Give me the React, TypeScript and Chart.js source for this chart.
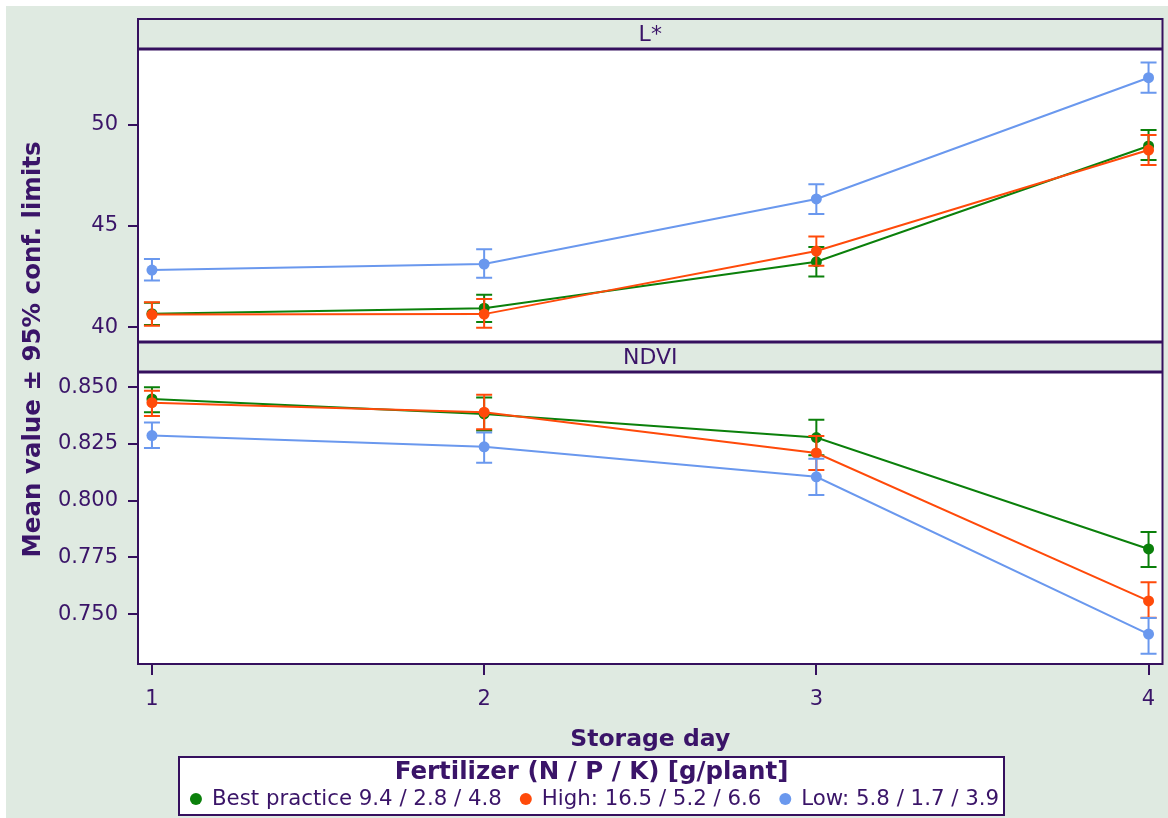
import React, { useEffect, useRef } from "react";
import { Chart, registerables } from "chart.js";

Chart.register(...registerables);

// ---------- data ----------
const days = [1, 2, 3, 4];
const dayTicks = [1, 2, 3, 4];
const lTicks = [40, 45, 50];
const ndviTicks = [0.75, 0.775, 0.8, 0.825, 0.85];

const seriesNames = [
  "Best practice 9.4 / 2.8 / 4.8",
  "High: 16.5 / 5.2 / 6.6",
  "Low: 5.8 / 1.7 / 3.9",
];
const seriesColors = ["#0b800b", "#ff4a0a", "#6a98ee"];

// L* panel
const lBestMean = [40.66, 40.93, 43.23, 48.96];
const lBestLow = [40.1, 40.25, 42.5, 48.27];
const lBestHigh = [41.2, 41.6, 43.96, 49.75];
const lHighMean = [40.62, 40.64, 43.76, 48.76];
const lHighLow = [40.07, 39.97, 43.03, 48.02];
const lHighHigh = [41.23, 41.39, 44.48, 49.5];
const lLowMean = [42.82, 43.12, 46.34, 52.34];
const lLowLow = [42.3, 42.44, 45.6, 51.6];
const lLowHigh = [43.37, 43.85, 47.07, 53.09];

// NDVI panel
const nBestMean = [0.8448, 0.8382, 0.8278, 0.7787];
const nBestLow = [0.839, 0.8309, 0.82, 0.7708];
const nBestHigh = [0.85, 0.8455, 0.8356, 0.7862];
const nHighMean = [0.8432, 0.839, 0.821, 0.7558];
const nHighLow = [0.8373, 0.8315, 0.8135, 0.7484];
const nHighHigh = [0.8484, 0.8467, 0.8285, 0.764];
const nLowMean = [0.8287, 0.8237, 0.8105, 0.7412];
const nLowLow = [0.8232, 0.8167, 0.8025, 0.7325];
const nLowHigh = [0.8344, 0.83, 0.8185, 0.7483];

const panelTitles = ["L*", "NDVI"];
const xTitle = "Storage day";
const yTitle = "Mean value \u00b1 95% conf. limits";
const legendTitle = "Fertilizer (N / P / K) [g/plant]";

// ---------- style ----------
const FONT = "'DejaVu Sans', Verdana, sans-serif";
const TEXT = "#3a1468";
const LINE = "#35105e";
const BG = "#dfeae1";

const mk = (
  idx: number,
  axis: string,
  mean: number[],
  lo: number[],
  hi: number[]
): any => ({
  label: seriesNames[idx],
  data: days.map((d, i) => ({ x: d, y: mean[i] })),
  errLow: lo,
  errHigh: hi,
  yAxisID: axis,
  xAxisID: "x",
  borderColor: seriesColors[idx],
  backgroundColor: seriesColors[idx],
  pointBackgroundColor: seriesColors[idx],
  pointBorderColor: seriesColors[idx],
  pointRadius: 5.5,
  pointBorderWidth: 0,
  borderWidth: 2,
  tension: 0,
  fill: false,
  order: 3 - idx,
});

const datasets = [
  mk(0, "yL", lBestMean, lBestLow, lBestHigh),
  mk(1, "yL", lHighMean, lHighLow, lHighHigh),
  mk(2, "yL", lLowMean, lLowLow, lLowHigh),
  mk(0, "yN", nBestMean, nBestLow, nBestHigh),
  mk(1, "yN", nHighMean, nHighLow, nHighHigh),
  mk(2, "yN", nLowMean, nLowLow, nLowHigh),
];

const decor = {
  id: "decor",
  beforeDraw(chart: any) {
    const { ctx, chartArea: ca } = chart;
    const yL = chart.scales.yL;
    const yN = chart.scales.yN;
    ctx.save();
    ctx.fillStyle = "#ffffff";
    ctx.fillRect(0, 0, chart.width, chart.height);
    ctx.fillStyle = BG;
    ctx.fillRect(6, 6, chart.width - 6, chart.height - 6);
    ctx.fillStyle = "#ffffff";
    ctx.fillRect(ca.left, yL.top, ca.right - ca.left, yL.bottom - yL.top);
    ctx.fillRect(ca.left, yN.top, ca.right - ca.left, yN.bottom - yN.top);
    ctx.restore();
  },
  beforeDatasetDraw(chart: any, args: any) {
    const ds = chart.data.datasets[args.index];
    const xs = chart.scales.x;
    const ys = chart.scales[ds.yAxisID];
    const { ctx } = chart;
    ctx.save();
    ctx.strokeStyle = ds.borderColor;
    ctx.lineWidth = 2;
    const cap = 8;
    days.forEach((d, i) => {
      const x = xs.getPixelForValue(d);
      const y1 = ys.getPixelForValue(ds.errLow[i]);
      const y2 = ys.getPixelForValue(ds.errHigh[i]);
      ctx.beginPath();
      ctx.moveTo(x, y1);
      ctx.lineTo(x, y2);
      ctx.moveTo(x - cap, y1);
      ctx.lineTo(x + cap, y1);
      ctx.moveTo(x - cap, y2);
      ctx.lineTo(x + cap, y2);
      ctx.stroke();
    });
    ctx.restore();
  },
  afterDraw(chart: any) {
    const { ctx, chartArea: ca } = chart;
    const yL = chart.scales.yL;
    const yG = chart.scales.yGap;
    const yN = chart.scales.yN;
    const hh = yG.bottom - yG.top;
    const headTop = yL.top - hh;
    const cx = (ca.left + ca.right) / 2;
    ctx.save();
    // borders
    ctx.strokeStyle = LINE;
    ctx.lineWidth = 2;
    ctx.strokeRect(ca.left, headTop, ca.right - ca.left, ca.bottom - headTop);
    ctx.lineWidth = 3;
    [yL.top, yL.bottom, yN.top].forEach((y: number) => {
      ctx.beginPath();
      ctx.moveTo(ca.left, y);
      ctx.lineTo(ca.right, y);
      ctx.stroke();
    });
    // header titles
    ctx.fillStyle = TEXT;
    ctx.textAlign = "center";
    ctx.textBaseline = "middle";
    ctx.font = `22px ${FONT}`;
    ctx.fillText(panelTitles[0], cx, headTop + hh / 2 + 1);
    ctx.fillText(panelTitles[1], cx, yG.top + hh / 2 + 1);
    // axis titles
    ctx.font = `bold 23.5px ${FONT}`;
    ctx.fillText(xTitle, cx, 740);
    ctx.font = `bold 24.5px ${FONT}`;
    ctx.save();
    ctx.translate(34, (headTop + ca.bottom) / 2 + 8);
    ctx.rotate(-Math.PI / 2);
    ctx.fillText(yTitle, 0, 0);
    ctx.restore();
    // legend
    const bx = 179, by = 757, bw = 825, bh = 58;
    ctx.fillStyle = "#ffffff";
    ctx.fillRect(bx, by, bw, bh);
    ctx.strokeStyle = LINE;
    ctx.lineWidth = 2;
    ctx.strokeRect(bx, by, bw, bh);
    ctx.fillStyle = TEXT;
    ctx.font = `bold 24.5px ${FONT}`;
    ctx.fillText(legendTitle, bx + bw / 2, by + 16);
    ctx.font = `21.3px ${FONT}`;
    const r = 6, gapText = 16, gapItem = 12;
    const widths = seriesNames.map((s) => ctx.measureText(s).width);
    const total =
      widths.reduce((a, w) => a + r + gapText + w, 0) + gapItem * (seriesNames.length - 1) + r;
    let x = bx + bw / 2 - total / 2;
    const ly = by + 42;
    ctx.textAlign = "left";
    seriesNames.forEach((s, i) => {
      ctx.fillStyle = seriesColors[i];
      ctx.beginPath();
      ctx.arc(x + r, ly, r, 0, Math.PI * 2);
      ctx.fill();
      ctx.fillStyle = TEXT;
      ctx.fillText(s, x + r + gapText, ly);
      x += r + gapText + widths[i] + gapItem + r;
    });
    ctx.restore();
  },
};

const tickFont = { family: FONT, size: 21 };

const yAxis = (ticksArr: number[], fmt: (v: number) => string): any => ({
  type: "linear",
  position: "left",
  stack: "panels",
  grid: {
    display: true,
    drawOnChartArea: false,
    drawTicks: true,
    tickLength: 10,
    color: LINE,
    lineWidth: 2,
  },
  border: { display: false },
  ticks: {
    font: tickFont,
    color: TEXT,
    padding: 10,
    callback: (v: number) => fmt(v),
  },
  afterBuildTicks: (s: any) => {
    s.ticks = ticksArr.map((v) => ({ value: v }));
  },
  afterFit: (s: any) => {
    s.width = 138;
  },
});

export default function App() {
  const ref = useRef<HTMLCanvasElement>(null);
  useEffect(() => {
    const canvas = ref.current;
    if (!canvas) return;
    Chart.defaults.font.family = FONT;
    const chart = new Chart(canvas, {
      type: "line",
      data: { datasets },
      options: {
        responsive: false,
        maintainAspectRatio: false,
        animation: false,
        devicePixelRatio: 1,
        events: [],
        layout: { padding: { left: 0, top: 49, right: 3, bottom: 0 } },
        plugins: {
          legend: { display: false },
          tooltip: { enabled: false },
          title: { display: false },
        },
        scales: {
          yL: { ...yAxis(lTicks, (v) => String(v)), min: 39.26, max: 53.76, stackWeight: 293, weight: 3 },
          yGap: {
            type: "linear",
            position: "left",
            stack: "panels",
            stackWeight: 30,
            weight: 2,
            display: false,
            min: 0,
            max: 1,
          },
          yN: { ...yAxis(ndviTicks, (v) => v.toFixed(3)), min: 0.728, max: 0.8567, stackWeight: 292, weight: 1 },
          x: {
            type: "linear",
            position: "bottom",
            min: 0.958,
            max: 4.042,
            grid: {
              display: true,
              drawOnChartArea: false,
              drawTicks: true,
              tickLength: 11,
              color: LINE,
              lineWidth: 2,
            },
            border: { display: false },
            ticks: {
              font: tickFont,
              color: TEXT,
              padding: 12,
              callback: (v: number) => String(v),
            },
            afterBuildTicks: (s: any) => {
              s.ticks = dayTicks.map((v) => ({ value: v }));
            },
            afterFit: (s: any) => {
              s.height = 154;
            },
          },
        },
      } as any,
      plugins: [decor],
    });
    return () => chart.destroy();
  }, []);
  return (
    <div style={{ position: "absolute", left: 0, top: 0, width: 1168, height: 818 }}>
      <canvas ref={ref} width={1168} height={818} style={{ display: "block", width: 1168, height: 818 }} />
    </div>
  );
}
